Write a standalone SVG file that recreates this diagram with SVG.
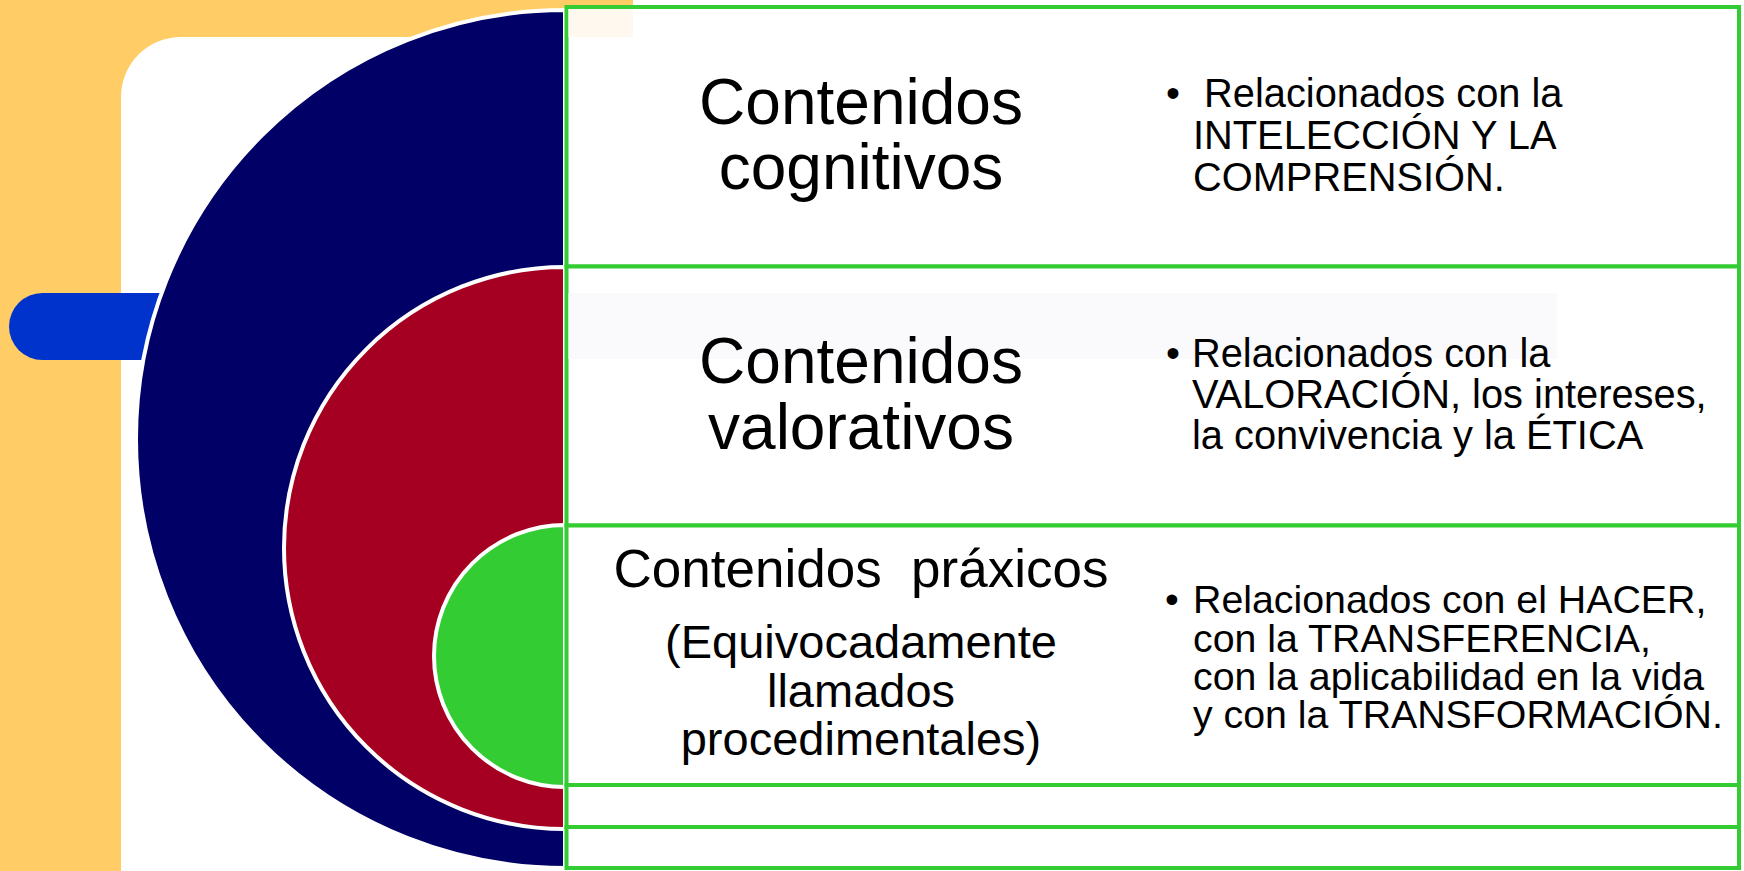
<svg xmlns="http://www.w3.org/2000/svg" width="1744" height="871" viewBox="0 0 1744 871">
<style>
.t{font-family:"Liberation Sans",Arial,sans-serif;fill:#000}
.h{font-size:64px;text-anchor:middle}
.b1{font-size:39.8px}
.b3{font-size:39.3px}
.box{fill:#fff;stroke:#33CC33;stroke-width:4}
.ring{stroke:#fff;stroke-width:4}
</style>
<g id="background">
<rect x="0" y="0" width="1744" height="871" fill="#FFCC66"/>
<path d="M121,871 V97 A60,60 0 0 1 181,37 H633 V0 H1744 V871 Z" fill="#fff"/>
<path d="M42.5,293 H1557 V360 H42.5 A33.5,33.5 0 0 1 42.5,293 Z" fill="#0033CC"/>
</g>
<g id="circles">
<path id="navy" class="ring" d="M565,10 A429,429 0 0 0 565,868 Z" fill="#000066"/>
<path id="red" class="ring" d="M565,267 A281,281 0 0 0 565,829 Z" fill="#A50021"/>
<path id="green" class="ring" d="M565,525 A131,131 0 0 0 565,787 Z" fill="#33CC33"/>
</g>
<g id="connectors"></g>
<g id="row1">
<rect class="box" x="566.5" y="7" width="1172.5" height="259.5"/>
<rect x="568.5" y="9" width="64.5" height="28" fill="#FFF8EE"/>
<text class="t h" x="861" y="124">Contenidos</text>
<text class="t h" x="861" y="189">cognitivos</text>
<text class="t b1" x="1166" y="107">•</text>
<text class="t b1" x="1193" y="107" xml:space="preserve"> Relacionados con la</text>
<text class="t b1" x="1193" y="149">INTELECCIÓN Y LA</text>
<text class="t b1" x="1193" y="191">COMPRENSIÓN.</text>
</g>
<g id="row2">
<rect class="box" x="566.5" y="266.5" width="1172.5" height="259"/>
<rect x="568.5" y="293" width="988.5" height="66" fill="#FAFAFD"/>
<text class="t h" x="861" y="383">Contenidos</text>
<text class="t h" x="861" y="449">valorativos</text>
<text class="t b1" x="1166" y="367">•</text>
<text class="t b1" x="1192" y="367">Relacionados con la</text>
<text class="t b1" x="1192" y="408">VALORACIÓN, los intereses,</text>
<text class="t b1" x="1192" y="449">la convivencia y la ÉTICA</text>
</g>
<g id="row3">
<rect class="box" x="566.5" y="525.5" width="1172.5" height="259.5"/>
<text class="t" x="861" y="587" font-size="53" text-anchor="middle" xml:space="preserve">Contenidos  práxicos</text>
<text class="t" x="861" y="658" font-size="47" text-anchor="middle">(Equivocadamente</text>
<text class="t" x="861" y="707" font-size="47" text-anchor="middle">llamados</text>
<text class="t" x="861" y="755" font-size="47" text-anchor="middle">procedimentales)</text>
<text class="t b3" x="1165" y="613">•</text>
<text class="t b3" x="1193" y="613">Relacionados con el HACER,</text>
<text class="t b3" x="1193" y="651.5">con la TRANSFERENCIA,</text>
<text class="t b3" x="1193" y="690">con la aplicabilidad en la vida</text>
<text class="t b3" x="1193" y="728">y con la TRANSFORMACIÓN.</text>
</g>
<g id="row4">
<rect class="box" x="566.5" y="785" width="1172.5" height="42"/>
</g>
<g id="row5">
<rect class="box" x="566.5" y="827" width="1172.5" height="41"/>
</g>
</svg>
